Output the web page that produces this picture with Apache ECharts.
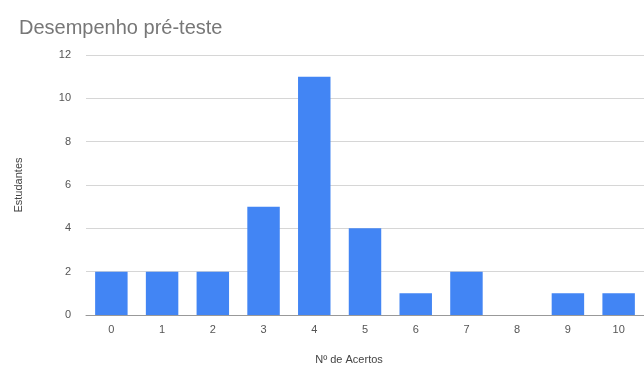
<!DOCTYPE html>
<html>
<head>
<meta charset="utf-8">
<script src="https://cdn.jsdelivr.net/npm/echarts@6/dist/echarts.min.js"></script>
<style>
  html, body { margin: 0; padding: 0; background: #fff; }
  #chart { width: 644px; height: 370px; }
</style>
</head>
<body>
<div id="chart"></div>
<script>
// Nº de acertos (categorias) e número de estudantes
var acertos = ['0', '1', '2', '3', '4', '5', '6', '7', '8', '9', '10'];
var estudantes = [2, 2, 2, 5, 11, 4, 1, 2, 0, 1, 1];

var myChart = echarts.init(document.getElementById('chart'));

var option = {
    animation: false,
    textStyle: { fontFamily: 'Liberation Sans, Arial, sans-serif' },
    title: {
        text: 'Desempenho pré-teste',
        left: 14,
        top: 13,
        textStyle: {
            fontSize: 20,
            fontWeight: 'normal',
            color: '#777'
        }
    },
    grid: {
        left: 86,
        right: 0,
        top: 55,
        bottom: 51
    },
    xAxis: {
        type: 'category',
        data: acertos,
        name: 'Nº de Acertos',
        nameLocation: 'middle',
        nameGap: 39,
        nameTextStyle: { fontSize: 11, color: '#444', padding: [0, 32, 0, 0] },
        axisTick: { show: false },
        axisLine: { lineStyle: { color: '#999', width: 1 } },
        axisLabel: { fontSize: 11, color: '#555', margin: 9 }
    },
    yAxis: {
        type: 'value',
        min: 0,
        max: 12,
        interval: 2,
        name: 'Estudantes',
        nameLocation: 'middle',
        nameGap: 62,
        nameTextStyle: { fontSize: 11, color: '#444' },
        axisLine: { show: false },
        axisTick: { show: false },
        axisLabel: { fontSize: 11, color: '#555', margin: 15 },
        splitLine: { lineStyle: { color: '#d6d6d6', width: 1 } }
    },
    series: [{
        type: 'bar',
        data: estudantes,
        barWidth: '64%',
        itemStyle: { color: '#4285f4' }
    }]
};

myChart.setOption(option);
</script>
</body>
</html>
